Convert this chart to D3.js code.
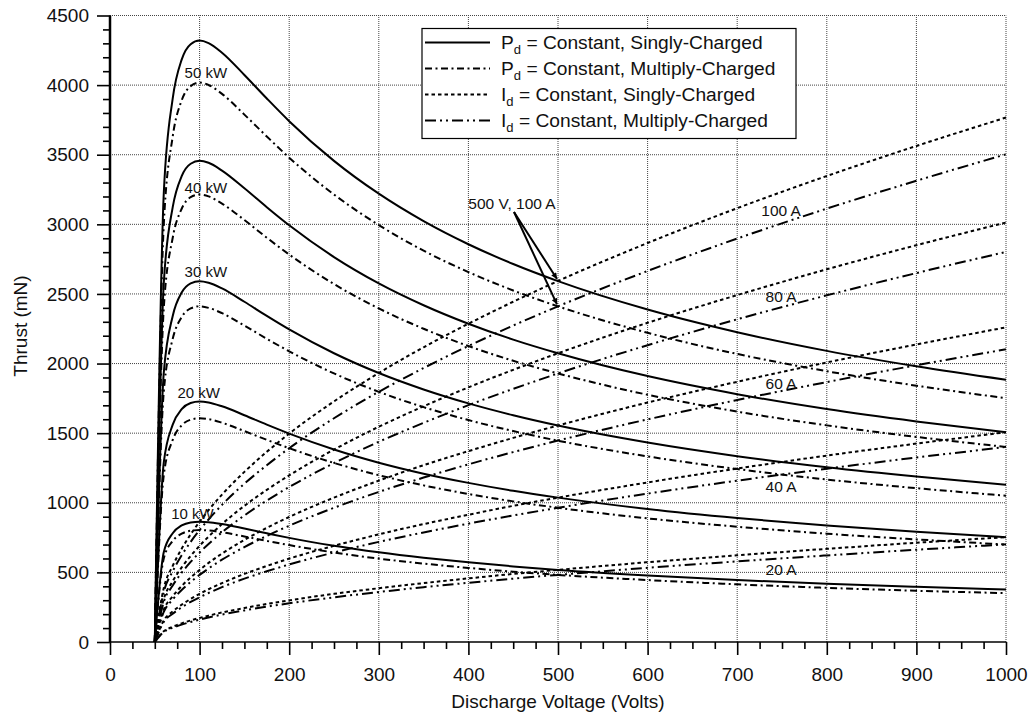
<!DOCTYPE html>
<html>
<head>
<meta charset="utf-8">
<script src="https://cdn.jsdelivr.net/npm/d3@7"></script>
<style>
  body { margin: 0; background: #fff; }
  svg { font-family: "Liberation Sans", Arial, sans-serif; }
</style>
</head>
<body>
<div id="chart"></div>
<script>
// discharge voltage samples (V)
const voltages = [50, 60, 70, 80, 90, 100, 110, 125, 150, 175, 200, 250, 300, 350, 400, 450, 500, 600, 700, 800, 900, 1000];

// constant power curves, thrust in mN
const powerLabels = ["10 kW", "20 kW", "30 kW", "40 kW", "50 kW"];
const powerSingly = [
    [0, 644, 781, 837, 859, 864, 861, 847, 815, 781, 748, 691, 644, 605, 572, 543, 518, 478, 445, 418, 396, 377],
    [0, 1288, 1561, 1673, 1717, 1728, 1721, 1693, 1629, 1561, 1497, 1383, 1288, 1209, 1143, 1086, 1037, 955, 890, 837, 792, 753],
    [0, 1932, 2342, 2510, 2576, 2592, 2581, 2540, 2444, 2342, 2245, 2074, 1932, 1814, 1714, 1629, 1555, 1433, 1335, 1255, 1188, 1130],
    [0, 2576, 3123, 3346, 3435, 3456, 3442, 3386, 3259, 3123, 2993, 2765, 2576, 2419, 2286, 2172, 2074, 1910, 1780, 1673, 1584, 1506],
    [0, 3220, 3904, 4183, 4294, 4320, 4302, 4233, 4073, 3904, 3741, 3456, 3220, 3023, 2857, 2715, 2592, 2388, 2225, 2091, 1980, 1883]
];
const powerMultiply = [
    [0, 599, 726, 778, 799, 804, 801, 788, 758, 726, 696, 643, 599, 563, 532, 505, 482, 445, 414, 389, 368, 351],
    [0, 1198, 1452, 1556, 1597, 1607, 1601, 1575, 1515, 1452, 1392, 1286, 1198, 1125, 1063, 1010, 964, 888, 828, 778, 737, 700],
    [0, 1797, 2178, 2334, 2396, 2411, 2400, 2362, 2273, 2178, 2088, 1929, 1797, 1687, 1594, 1515, 1446, 1333, 1242, 1167, 1105, 1051],
    [0, 2396, 2904, 3112, 3195, 3214, 3201, 3149, 3031, 2904, 2783, 2571, 2396, 2250, 2126, 2020, 1929, 1776, 1655, 1556, 1473, 1401],
    [0, 2995, 3631, 3890, 3993, 4018, 4001, 3937, 3788, 3631, 3479, 3214, 2995, 2811, 2657, 2525, 2411, 2221, 2069, 1945, 1841, 1751]
];
const powerLabelPos = [[92, 513], [99, 392], [107, 271], [107, 187], [107, 72]]; // [V, pixel y] for the kW tags

// constant current curves, thrust in mN
const currentLabels = ["20 A", "40 A", "60 A", "80 A", "100 A"];
const currentSingly = [
    [0, 77, 109, 134, 155, 173, 189, 212, 244, 273, 299, 346, 386, 423, 457, 489, 518, 573, 623, 669, 713, 753],
    [0, 155, 219, 268, 309, 346, 379, 423, 489, 546, 599, 691, 773, 847, 914, 978, 1037, 1146, 1246, 1339, 1425, 1507],
    [0, 232, 328, 402, 464, 518, 568, 635, 733, 820, 898, 1037, 1159, 1270, 1371, 1466, 1555, 1720, 1869, 2008, 2137, 2260],
    [0, 309, 437, 536, 618, 691, 757, 847, 978, 1093, 1197, 1382, 1546, 1693, 1829, 1955, 2074, 2293, 2492, 2677, 2850, 3013],
    [0, 387, 547, 670, 773, 864, 947, 1059, 1222, 1366, 1497, 1728, 1932, 2117, 2286, 2444, 2593, 2866, 3116, 3347, 3563, 3767]
];
const currentMultiply = [
    [0, 72, 102, 125, 144, 161, 176, 197, 227, 254, 278, 321, 359, 394, 425, 455, 482, 533, 579, 622, 663, 701],
    [0, 144, 203, 249, 288, 321, 352, 394, 455, 508, 557, 643, 719, 787, 850, 909, 964, 1066, 1159, 1245, 1325, 1401],
    [0, 216, 305, 374, 431, 482, 528, 591, 682, 762, 835, 964, 1078, 1181, 1276, 1364, 1447, 1599, 1738, 1867, 1988, 2102],
    [0, 288, 406, 498, 575, 643, 704, 788, 909, 1016, 1113, 1285, 1438, 1574, 1701, 1818, 1929, 2132, 2318, 2490, 2650, 2802],
    [0, 360, 508, 623, 719, 804, 880, 985, 1137, 1270, 1392, 1607, 1797, 1968, 2126, 2273, 2411, 2665, 2898, 3113, 3313, 3503]
];
const currentLabelY = [569, 486, 383, 296, 210];

const xTicks = d3.range(0, 1001, 100);
const yTicks = d3.range(0, 4501, 500);

const width = 1031, height = 717;
const x = d3.scaleLinear().domain([0, 1000]).range([110, 1006]);
const y = d3.scaleLinear().domain([0, 4500]).range([642, 15.5]);

const svg = d3.select("#chart").append("svg")
    .attr("width", width)
    .attr("height", height);

// dotted grid
const grid = svg.append("g").attr("stroke", "#444").attr("stroke-width", 1).attr("stroke-dasharray", "1,1");
grid.selectAll(".gx").data(xTicks.slice(1)).enter().append("line")
    .attr("x1", d => x(d)).attr("x2", d => x(d))
    .attr("y1", y(0)).attr("y2", y(4500));
grid.selectAll(".gy").data(yTicks.slice(1)).enter().append("line")
    .attr("x1", x(0)).attr("x2", x(1000))
    .attr("y1", d => y(d)).attr("y2", d => y(d));

// axes
const xAxis = svg.append("g").attr("transform", `translate(0,${y(0)})`)
    .call(d3.axisBottom(x).tickValues(xTicks).tickSize(13).tickPadding(13).tickFormat(d3.format("d")));
svg.append("g").attr("transform", `translate(0,${y(0)})`)
    .call(d3.axisBottom(x).tickValues(d3.range(0, 1001, 25).filter(d => d % 100)).tickSize(7).tickFormat(""))
    .select(".domain").remove();
const yAxis = svg.append("g").attr("transform", `translate(${x(0)},0)`)
    .call(d3.axisLeft(y).tickValues(yTicks).tickSize(13).tickPadding(8).tickFormat(d3.format("d")));
svg.append("g").attr("transform", `translate(${x(0)},0)`)
    .call(d3.axisLeft(y).tickValues(d3.range(0, 4501, 100).filter(d => d % 500)).tickSize(7).tickFormat(""))
    .select(".domain").remove();

svg.selectAll(".domain").attr("stroke", "#000");
xAxis.select(".domain").attr("d", `M${x(0)},0H${x(1000)}`).attr("stroke-width", 1.5);
yAxis.select(".domain").attr("d", `M0,${y(0)}V${y(4500)}`).attr("stroke-width", 2.5);
svg.selectAll(".tick line").attr("stroke", "#000").attr("stroke-width", 1.6);
svg.selectAll(".tick text").attr("font-size", 19).attr("fill", "#111")
    .attr("font-family", "'Liberation Sans', Arial, sans-serif");

svg.append("text").attr("x", (x(0) + x(1000)) / 2).attr("y", 708)
    .attr("text-anchor", "middle").attr("font-size", 19).attr("fill", "#111").text("Discharge Voltage (Volts)");
svg.append("text").attr("transform", "translate(27,326) rotate(-90)")
    .attr("text-anchor", "middle").attr("font-size", 19).attr("fill", "#111").text("Thrust (mN)");

// curves
const styles = {
    powerSingly: null,
    powerMultiply: "7,3.5,2,3.5",
    currentSingly: "3.5,3",
    currentMultiply: "11,4,2,4,2,4"
};
const line = d3.line()
    .x((d, i) => x(voltages[i]))
    .y(d => y(d))
    .curve(d3.curveMonotoneX);

function drawSeries(list, dash) {
    svg.append("g").selectAll("path").data(list).enter().append("path")
        .attr("d", line)
        .attr("fill", "none")
        .attr("stroke", "#000")
        .attr("stroke-width", 2)
        .attr("stroke-dasharray", dash);
}
drawSeries(currentSingly, styles.currentSingly);
drawSeries(currentMultiply, styles.currentMultiply);
drawSeries(powerMultiply, styles.powerMultiply);
drawSeries(powerSingly, styles.powerSingly);

// curve tags
svg.append("g").selectAll("text").data(powerLabels).enter().append("text")
    .attr("x", (d, i) => x(powerLabelPos[i][0]))
    .attr("y", (d, i) => powerLabelPos[i][1] + 5.5)
    .attr("text-anchor", "middle").attr("font-size", 15).attr("fill", "#111")
    .text(d => d);
svg.append("g").selectAll("text").data(currentLabels).enter().append("text")
    .attr("x", x(749))
    .attr("y", (d, i) => currentLabelY[i] + 5.5)
    .attr("text-anchor", "middle").attr("font-size", 15.5).attr("fill", "#111")
    .text(d => d);

// 500 V, 100 A call-out
svg.append("defs").append("marker")
    .attr("id", "arrowhead")
    .attr("viewBox", "0 -5 10 10")
    .attr("refX", 10).attr("refY", 0)
    .attr("orient", "auto")
    .attr("markerWidth", 8).attr("markerHeight", 6)
    .attr("markerUnits", "userSpaceOnUse")
    .append("path").attr("d", "M0,-5L10,0L0,5Z").attr("fill", "#000");
svg.append("text").attr("x", 512).attr("y", 209).attr("text-anchor", "middle")
    .attr("font-size", 15.5).attr("fill", "#111").text("500 V, 100 A");
const calloutTargets = [currentSingly[4][16], currentMultiply[4][16]];
svg.append("g").selectAll("line").data(calloutTargets).enter().append("line")
    .attr("x1", 514).attr("y1", 212)
    .attr("x2", x(500) - 1).attr("y2", d => y(d) - 2)
    .attr("stroke", "#000").attr("stroke-width", 2)
    .attr("marker-end", "url(#arrowhead)");

// legend
const legendItems = [
    { dash: styles.powerSingly, main: "P", rest: " = Constant, Singly-Charged" },
    { dash: styles.powerMultiply, main: "P", rest: " = Constant, Multiply-Charged" },
    { dash: styles.currentSingly, main: "I", rest: " = Constant, Singly-Charged" },
    { dash: styles.currentMultiply, main: "I", rest: " = Constant, Multiply-Charged" }
];
const legend = svg.append("g");
legend.append("rect").attr("x", 422).attr("y", 28.5).attr("width", 374).attr("height", 110)
    .attr("fill", "#fff").attr("stroke", "#000").attr("stroke-width", 1.2);
const rows = legend.selectAll(".row").data(legendItems).enter().append("g")
    .attr("transform", (d, i) => `translate(0,${42.5 + i * 26})`);
rows.append("line").attr("x1", 425).attr("x2", 490).attr("y1", 0).attr("y2", 0)
    .attr("stroke", "#000").attr("stroke-width", 2)
    .attr("stroke-dasharray", d => d.dash);
const lt = rows.append("text").attr("x", 501).attr("y", 6.5).attr("font-size", 19.2).attr("fill", "#111");
lt.append("tspan").text(d => d.main);
lt.append("tspan").attr("font-size", 13).attr("dy", 5).text("d");
lt.append("tspan").attr("dy", -5).text(d => d.rest);
</script>
</body>
</html>
